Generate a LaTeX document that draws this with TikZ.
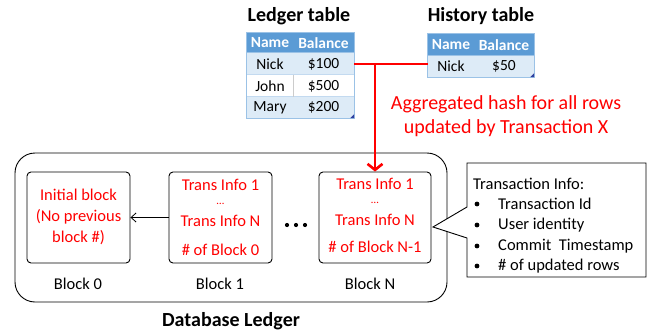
\documentclass[tikz,border=0pt]{standalone}
\usepackage{fontspec}
\setmainfont{Carlito}
\usetikzlibrary{arrows.meta}
\definecolor{hdrblue}{HTML}{5B9BD5}
\definecolor{rowblue}{HTML}{DDEBF7}
\definecolor{gridblue}{HTML}{9BC2E6}
\definecolor{handle}{HTML}{2F3F9F}
\definecolor{hashred}{HTML}{FF0000}
\newcommand{\fs}[2]{\fontsize{#1}{#2}\selectfont}
\newcommand{\smalldots}{{\fs{11}{11}\dots}}
\tikzset{
  hdrcell/.style={fill=hdrblue, text=white, font=\fs{15.5}{16}\bfseries, inner sep=0pt},
  oddcell/.style={fill=rowblue, font=\fs{15.5}{16}, inner sep=0pt},
  evencell/.style={fill=white, font=\fs{15.5}{16}, inner sep=0pt},
  title/.style={font=\fs{20}{20}\bfseries, inner sep=0pt},
  blockbox/.style={draw=black, line width=0.9pt, rounded corners=4pt, inner sep=0pt},
  redtxt/.style={text=hashred, font=\fs{16.5}{17}, inner sep=0pt, align=center},
  lbl/.style={font=\fs{16.5}{17}, inner sep=0pt},
  infotxt/.style={font=\fs{16.5}{17}, inner sep=0pt, anchor=west},
  hashline/.style={draw=hashred, line width=2.6pt},
}
\begin{document}
\begin{tikzpicture}[x=1pt,y=-1pt]
\useasboundingbox (0,0) rectangle (648,332);
\fill[white] (0,0) rectangle (648,332);

% ---- Ledger table ----
\node[title] (ltitle) at (299,16) {Ledger table};
\node[hdrcell, minimum width=46, minimum height=20] (lh1) at (270,43) {Name};
\node[hdrcell, minimum width=61, minimum height=20] (lh2) at (323.5,43) {Balance};
\node[oddcell, minimum width=46, minimum height=22] (ln1) at (270,64) {Nick};
\node[oddcell, minimum width=61, minimum height=22] (lb1) at (323.5,64) {\$100};
\node[evencell, minimum width=46, minimum height=22] (ln2) at (270,86) {John};
\node[evencell, minimum width=61, minimum height=22] (lb2) at (323.5,86) {\$500};
\node[oddcell, minimum width=46, minimum height=21] (ln3) at (270,107.5) {Mary};
\node[oddcell, minimum width=61, minimum height=21] (lb3) at (323.5,107.5) {\$200};
\draw[gridblue, line width=1pt] (lh1.north west) rectangle (lb3.south east);
\draw[gridblue, line width=0.8pt] (ln1.north west) -- (lb1.north east);
\draw[gridblue!60, line width=0.8pt] (ln2.north west) -- (lb2.north east);
\draw[gridblue!60, line width=0.8pt] (ln3.north west) -- (lb3.north east);
\draw[black!20, line width=1pt] (ln2.north east) -- (ln2.south east);
\fill[handle] (lb3.south east) ++(-4,0) -- ++(4,-4) -- ++(0,4) -- cycle;

% ---- History table ----
\node[title] (htitle) at (481,16) {History table};
\node[hdrcell, minimum width=46, minimum height=22] (hh1) at (451,45) {Name};
\node[hdrcell, minimum width=60, minimum height=22] (hh2) at (504,45) {Balance};
\node[oddcell, minimum width=46, minimum height=21] (hn1) at (451,66.5) {Nick};
\node[oddcell, minimum width=60, minimum height=21] (hb1) at (504,66.5) {\$50};
\draw[gridblue, line width=1pt] (hh1.north west) rectangle (hb1.south east);
\draw[gridblue, line width=0.8pt] (hn1.north west) -- (hb1.north east);
\fill[handle] (hb1.south east) ++(-4,0) -- ++(4,-4) -- ++(0,4) -- cycle;

% ---- Database ledger with its blocks ----
\node[draw=black, line width=0.9pt, rounded corners=20pt, minimum width=432, minimum height=149, inner sep=0pt] (ledger) at (231,227.5) {};
\node[blockbox, minimum width=103, minimum height=91] (b0) at (78.5,217.5) {};
\node[blockbox, minimum width=103, minimum height=91] (b1) at (220.5,217.5) {};
\node[blockbox, minimum width=112, minimum height=91] (bn) at (375,217.5) {};

\node[redtxt, font=\fs{16.5}{21}] (b0t) at (78.5,217) {Initial block\\(No previous\\block \#)};

\node[redtxt] (b1t) at (220.5,203) {Trans Info 1\\[-3pt]\smalldots\\[5pt]Trans Info N};
\node[redtxt] (b1d) at (220.5,250) {\# of Block 0};

\node[redtxt] (bnt) at (375,202) {Trans Info 1\\[-3pt]\smalldots\\[5pt]Trans Info N};
\node[redtxt] (bnd) at (375,247) {\# of Block N-1};

\node[lbl] (l0) at (78,284) {Block 0};
\node[lbl] (l1) at (220,284) {Block 1};
\node[lbl] (ln) at (370,284) {Block N};
\node[title] (dbl) at (231,321) {Database Ledger};

\draw[-{Straight Barb[length=5pt,width=9pt]}, line width=0.8pt] (b1.west) -- (b0.east);
\foreach \x in {287,296,305} \fill (\x,225) circle (2.1pt);

% ---- Hash connector ----
\draw[hashline] (lb1.east) -- (lb1.east -| hn1.west);
\coordinate (junc) at (375,64);
\draw[hashline, -{Straight Barb[length=6pt,width=15pt]}] (junc) -- (bn.north -| junc);
\node[text=hashred, font=\fs{20}{20}, inner sep=0pt] (hash1) at (506,104) {Aggregated hash for all rows};
\node[text=hashred, font=\fs{20}{20}, inner sep=0pt] (hash2) at (506,128) {updated by Transaction X};

% ---- Transaction info callout ----
\coordinate (tip) at (433,227);
\draw[line width=0.9pt, fill=white] (467,163) -- (646,163) -- (646,277) -- (467,277) -- (467,238) -- (tip) -- (467,207) -- cycle;
\node[infotxt] (ti) at (473,184) {Transaction Info:};
\foreach \y/\t [count=\i] in {204/Transaction Id, 225/User identity, 246/Commit\ \ Timestamp, 266/\# of updated rows} {
  \fill (477,\y) circle (2.4pt);
  \node[infotxt] (ti\i) at (498,\y) {\t};
}
\end{tikzpicture}
\end{document}
